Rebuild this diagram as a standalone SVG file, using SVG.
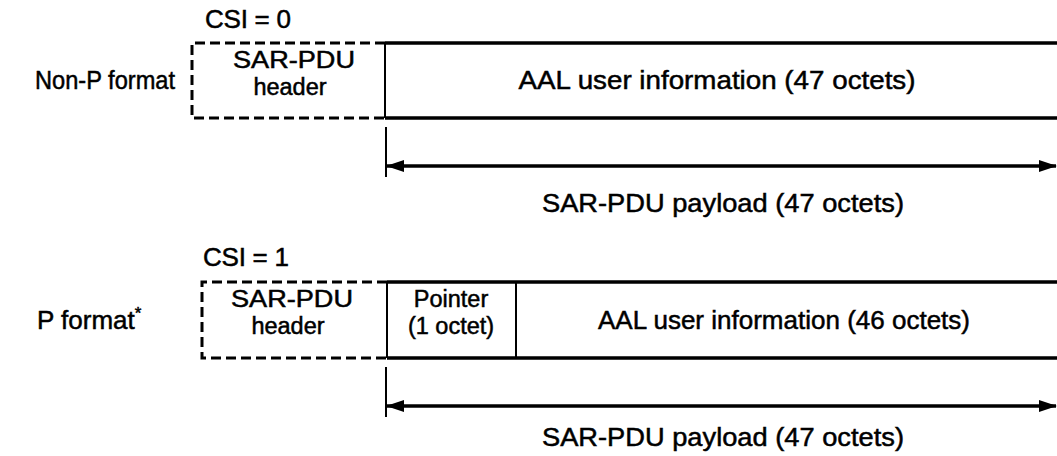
<svg xmlns="http://www.w3.org/2000/svg" width="1057" height="456" viewBox="0 0 1057 456">
<style>
text{font-family:"Liberation Sans",Arial,sans-serif;font-size:26px;fill:#000;stroke:#000;stroke-width:0.5}
.m{text-anchor:middle}
.s{font-size:23.5px}
.dash{fill:none;stroke:#000;stroke-width:3;stroke-dasharray:10 5}
.solid{fill:none;stroke:#000;stroke-width:3.5}
.thin{fill:none;stroke:#000;stroke-width:2}
.arr{fill:none;stroke:#000;stroke-width:3.5;marker-start:url(#ah);marker-end:url(#ah)}
</style>
<defs>
<marker id="ah" viewBox="0 0 18 12" refX="17" refY="6" markerWidth="18" markerHeight="12" markerUnits="userSpaceOnUse" orient="auto-start-reverse">
<path d="M0,0 L18,6 L0,12 z" fill="#000"/>
</marker>
</defs>
<rect width="1057" height="456" fill="#fff"/>

<g id="labels">
<text x="205" y="28" textLength="86">CSI = 0</text>
<text x="35" y="89" textLength="140" lengthAdjust="spacingAndGlyphs">Non-P format</text>
<text x="203" y="266" textLength="86">CSI = 1</text>
<text x="37" y="329">P format<tspan font-size="17" dy="-10">*</tspan></text>
</g>

<g id="nonp-header">
<path class="dash" d="M385,43 H192 V118 H385"/>
<text class="m s" x="294" y="68" textLength="122" lengthAdjust="spacingAndGlyphs">SAR-PDU</text>
<text class="m s" x="290" y="95">header</text>
</g>
<g id="nonp-info">
<path class="solid" d="M385,43 H1057 M385,118 H1057"/>
<path class="thin" d="M385,43 V118"/>
<text class="m" x="717" y="89" textLength="397" lengthAdjust="spacingAndGlyphs">AAL user information (47 octets)</text>
</g>

<g id="p-header">
<path class="dash" d="M387,282 H202 V358 H387"/>
<text class="m s" x="292" y="307" textLength="122" lengthAdjust="spacingAndGlyphs">SAR-PDU</text>
<text class="m s" x="288" y="334">header</text>
</g>
<g id="p-pointer">
<path class="solid" d="M387,282 H516 M387,358 H516"/>
<path class="thin" d="M387,282 V358 M516,282 V358"/>
<text class="m s" x="451" y="307">Pointer</text>
<text class="m s" x="451" y="334">(1 octet)</text>
</g>
<g id="p-info">
<path class="solid" d="M516,282 H1057 M516,358 H1057"/>
<text class="m" x="784" y="329" textLength="372" lengthAdjust="spacingAndGlyphs">AAL user information (46 octets)</text>
</g>

<g id="connectors">
<path class="thin" d="M386,127 V177"/>
<path class="arr" d="M387,166 H1056"/>
<path class="thin" d="M386,367 V417"/>
<path class="arr" d="M387,406 H1056"/>
</g>

<g id="payload-labels">
<text class="m" x="723" y="212" textLength="362" lengthAdjust="spacingAndGlyphs">SAR-PDU payload (47 octets)</text>
<text class="m" x="723" y="446" textLength="362" lengthAdjust="spacingAndGlyphs">SAR-PDU payload (47 octets)</text>
</g>
</svg>
